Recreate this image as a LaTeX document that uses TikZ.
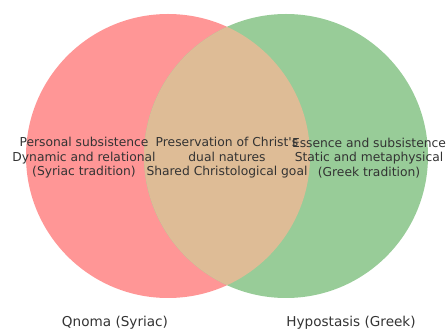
\documentclass[tikz,border=0pt]{standalone}
\usepackage{fontspec}
\setmainfont{DejaVu Sans}
\definecolor{vred}{RGB}{255,150,150}
\definecolor{vgreen}{RGB}{152,204,152}
\definecolor{vtan}{RGB}{222,188,150}
\definecolor{vtext}{RGB}{51,51,51}
\begin{document}
\begin{tikzpicture}[x=1pt,y=1pt,
  subset/.style={align=center,text=vtext,inner sep=0pt,font=\fontsize{12.3}{14.5}\selectfont},
  setlabel/.style={text=vtext,inner sep=0pt,font=\fontsize{13.6}{16}\selectfont}]
\useasboundingbox (0,0) rectangle (448,329);
\coordinate (cl) at (168,173);
\coordinate (cr) at (286,173);
\fill[vred] (cl) circle[radius=142];
\fill[vgreen] (cr) circle[radius=142];
\begin{scope}
\clip (cl) circle[radius=142];
\fill[vtan] (cr) circle[radius=142];
\end{scope}
\node[subset] (left) at (84,171) {Personal subsistence\\Dynamic and relational\\(Syriac tradition)};
\node[subset] (mid) at (227,171) {Preservation of Christ\textquotesingle s\\dual natures\\Shared Christological goal};
\node[subset] (right) at (369,171) {Essence and subsistence\\Static and metaphysical\\(Greek tradition)};
\node[setlabel] (la) at (115,6.5) {Qnoma (Syriac)};
\node[setlabel] (lb) at (351,6.5) {Hypostasis (Greek)};
\end{tikzpicture}
\end{document}
